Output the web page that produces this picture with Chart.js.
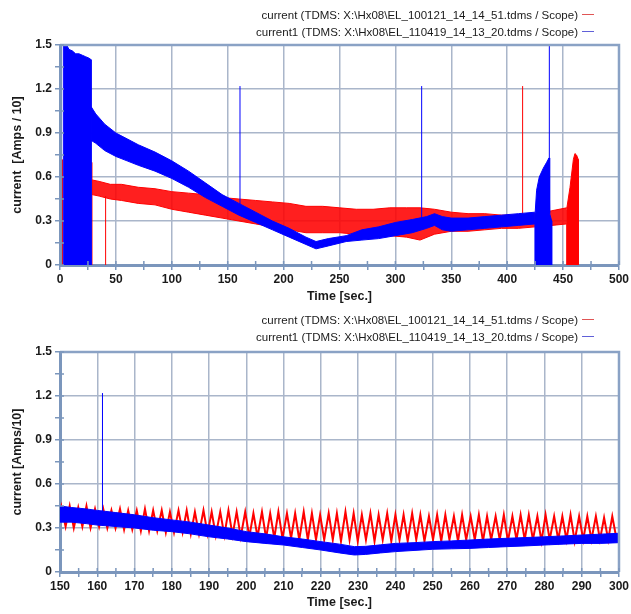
<!DOCTYPE html>
<html>
<head>
<meta charset="utf-8">
<script src="https://cdn.jsdelivr.net/npm/chart.js@4"></script>
<style>
  body { margin: 0; background: #fff; width: 631px; height: 614px; overflow: hidden; position: relative;
         font-family: "Liberation Sans", Arial, sans-serif; }
  canvas { position: absolute; left: 0; }
  .legend { position: absolute; right: 37px; font-size: 11.5px; line-height: 17px; color: #1a1a1a;
            text-align: right; white-space: nowrap; z-index: 2; }
  .legend .key { display: inline-block; width: 12px; height: 1px; vertical-align: 4px; margin-left: 4px; }
</style>
</head>
<body>
<div class="legend" style="top:7px">
  <div>current (TDMS: X:\Hx08\EL_100121_14_14_51.tdms / Scope)<span class="key" style="background:#e05555"></span></div>
  <div>current1 (TDMS: X:\Hx08\EL_110419_14_13_20.tdms / Scope)<span class="key" style="background:#6060d8"></span></div>
</div>
<div class="legend" style="top:312px">
  <div>current (TDMS: X:\Hx08\EL_100121_14_14_51.tdms / Scope)<span class="key" style="background:#e05555"></span></div>
  <div>current1 (TDMS: X:\Hx08\EL_110419_14_13_20.tdms / Scope)<span class="key" style="background:#6060d8"></span></div>
</div>
<canvas id="fullChart" width="631" height="308" style="top:0"></canvas>
<canvas id="zoomChart" width="631" height="306" style="top:308px"></canvas>
<script>
// Tick labels
const fullTimeTicks = [0, 50, 100, 150, 200, 250, 300, 350, 400, 450, 500];
const zoomTimeTicks = [150, 160, 170, 180, 190, 200, 210, 220, 230, 240, 250, 260, 270, 280, 290, 300];
const currentTicks = [0, 0.3, 0.6, 0.9, 1.2, 1.5];

// --- Full run (0-500 s) ---
// current1 (blue): start burst, noisy band (upper/lower edge), end burst, single spikes
const blueStartTime = [3.0, 3.0, 6, 8, 11, 14, 17, 20, 23, 26, 27.8, 27.8];
const blueStartCurrent = [0, 1.5, 1.5, 1.47, 1.46, 1.44, 1.44, 1.43, 1.42, 1.41, 1.40, 0];
const blueBandTime = [27.8, 32, 40, 50, 60, 70, 85, 100, 115, 130, 145, 160, 175, 190, 205, 220, 229, 240, 256, 270, 285, 300, 315, 328, 335, 342, 350, 365, 380, 395, 410, 424.8];
const blueBandUpper = [1.08, 1.03, 0.96, 0.90, 0.86, 0.82, 0.77, 0.71, 0.64, 0.56, 0.48, 0.42, 0.36, 0.30, 0.25, 0.19, 0.16, 0.18, 0.20, 0.24, 0.26, 0.29, 0.31, 0.33, 0.35, 0.33, 0.32, 0.32, 0.33, 0.34, 0.35, 0.36];
const blueBandLower = [0.85, 0.83, 0.78, 0.74, 0.71, 0.68, 0.64, 0.59, 0.53, 0.46, 0.40, 0.34, 0.29, 0.24, 0.19, 0.14, 0.11, 0.13, 0.16, 0.17, 0.18, 0.20, 0.22, 0.25, 0.27, 0.24, 0.23, 0.24, 0.25, 0.26, 0.27, 0.28];
const blueEndTime = [424.8, 424.8, 426.3, 428.7, 432.3, 435.3, 437.4, 438.0, 439.8, 439.8];
const blueEndCurrent = [0, 0.33, 0.51, 0.60, 0.66, 0.70, 0.73, 0.35, 0.30, 0];
const blueSpikeTime = [161, 323.5, 437.7];
const blueSpikeBase = [0.38, 0.31, 0.70];
const blueSpikeTop = [1.22, 1.22, 1.5];

// current (red): noisy band, end burst, spikes
const redBandTime = [28.6, 35, 45, 55, 70, 85, 100, 115, 130, 145, 160, 175, 190, 205, 220, 235, 250, 265, 280, 295, 310, 322, 335, 350, 365, 380, 395, 410, 425, 440, 453.2];
const redBandUpper = [0.58, 0.57, 0.55, 0.55, 0.53, 0.52, 0.50, 0.49, 0.48, 0.46, 0.45, 0.44, 0.43, 0.42, 0.40, 0.40, 0.39, 0.38, 0.38, 0.39, 0.39, 0.39, 0.38, 0.36, 0.35, 0.35, 0.34, 0.34, 0.35, 0.37, 0.39];
const redBandLower = [0.48, 0.47, 0.45, 0.44, 0.42, 0.41, 0.38, 0.36, 0.34, 0.32, 0.30, 0.28, 0.26, 0.24, 0.22, 0.22, 0.22, 0.21, 0.21, 0.20, 0.19, 0.17, 0.21, 0.23, 0.23, 0.24, 0.25, 0.25, 0.26, 0.27, 0.28];
const redEndTime = [453.2, 453.2, 456.2, 459.2, 460.6, 462.0, 463.6, 463.6];
const redEndCurrent = [0, 0.38, 0.53, 0.72, 0.76, 0.75, 0.72, 0];
const redSpikeTime = [2.2, 28.6, 40.8, 413.8];
const redSpikeBase = [0, 0, 0, 0.34];
const redSpikeTop = [0.72, 0.70, 0.47, 1.22];

// --- Zoom (150-300 s) ---
const zoomBlueTime = [150, 153, 157, 160, 165, 170, 175, 180, 185, 190, 195, 200, 205, 210, 215, 220, 225, 229, 232, 236, 240, 245, 250, 255, 260, 265, 270, 275, 280, 285, 290, 295, 300];
const zoomBlueUpper = [0.45, 0.44, 0.43, 0.42, 0.405, 0.39, 0.37, 0.355, 0.34, 0.32, 0.30, 0.275, 0.26, 0.24, 0.225, 0.207, 0.19, 0.173, 0.175, 0.185, 0.195, 0.20, 0.207, 0.212, 0.218, 0.225, 0.23, 0.235, 0.24, 0.246, 0.252, 0.258, 0.264];
const zoomBlueLower = [0.34, 0.34, 0.33, 0.32, 0.31, 0.30, 0.285, 0.275, 0.26, 0.24, 0.225, 0.207, 0.195, 0.184, 0.167, 0.15, 0.13, 0.116, 0.12, 0.13, 0.139, 0.147, 0.155, 0.158, 0.161, 0.167, 0.173, 0.178, 0.184, 0.19, 0.195, 0.195, 0.2];
const zoomBlueSpikeTime = [161.4];
const zoomBlueSpikeBase = [0.38];
const zoomBlueSpikeTop = [1.22];

// red oscillation: peaks and troughs read one by one
const zoomRedPeakTime = [150.4, 152.6, 154.9, 157.1, 159.4, 161.6, 163.8, 166.1, 168.3, 170.6, 172.8, 175.0, 177.3, 179.5, 181.8, 184.0, 186.2, 188.5, 190.7, 193.0, 195.2, 197.4, 199.7, 201.9, 204.2, 206.4, 208.6, 210.9, 213.1, 215.4, 217.6, 219.8, 222.1, 224.3, 226.6, 228.8, 231.0, 233.3, 235.5, 237.8, 240.0, 242.2, 244.5, 246.7, 249.0, 251.2, 253.4, 255.7, 257.9, 260.2, 262.4, 264.6, 266.9, 269.1, 271.4, 273.6, 275.8, 278.1, 280.3, 282.6, 284.8, 287.0, 289.3, 291.5, 293.8, 296.0, 298.2];
const zoomRedPeakCurrent = [0.44, 0.45, 0.44, 0.45, 0.43, 0.43, 0.42, 0.43, 0.42, 0.42, 0.43, 0.42, 0.42, 0.41, 0.42, 0.42, 0.41, 0.42, 0.41, 0.41, 0.42, 0.41, 0.41, 0.40, 0.41, 0.40, 0.41, 0.40, 0.40, 0.41, 0.40, 0.39, 0.40, 0.40, 0.41, 0.40, 0.39, 0.40, 0.39, 0.40, 0.39, 0.39, 0.40, 0.39, 0.38, 0.39, 0.39, 0.38, 0.39, 0.38, 0.39, 0.38, 0.38, 0.39, 0.38, 0.39, 0.39, 0.38, 0.39, 0.38, 0.38, 0.39, 0.38, 0.38, 0.38, 0.37, 0.38];
const zoomRedTroughTime = [150.0, 151.5, 153.7, 156.0, 158.2, 160.5, 162.7, 164.9, 167.2, 169.4, 171.7, 173.9, 176.1, 178.4, 180.6, 182.9, 185.1, 187.3, 189.6, 191.8, 194.1, 196.3, 198.5, 200.8, 203.0, 205.3, 207.5, 209.7, 212.0, 214.2, 216.5, 218.7, 220.9, 223.2, 225.4, 227.7, 229.9, 232.1, 234.4, 236.6, 238.9, 241.1, 243.3, 245.6, 247.8, 250.1, 252.3, 254.5, 256.8, 259.0, 261.3, 263.5, 265.7, 268.0, 270.2, 272.5, 274.7, 276.9, 279.2, 281.4, 283.7, 285.9, 288.1, 290.4, 292.6, 294.9, 297.1, 299.3];
const zoomRedTroughCurrent = [0.36, 0.31, 0.30, 0.31, 0.30, 0.31, 0.30, 0.30, 0.29, 0.29, 0.28, 0.28, 0.28, 0.27, 0.27, 0.27, 0.26, 0.26, 0.26, 0.25, 0.25, 0.25, 0.24, 0.24, 0.24, 0.23, 0.23, 0.23, 0.23, 0.22, 0.22, 0.22, 0.22, 0.22, 0.21, 0.22, 0.21, 0.22, 0.21, 0.22, 0.21, 0.22, 0.21, 0.22, 0.21, 0.22, 0.21, 0.22, 0.21, 0.22, 0.22, 0.21, 0.22, 0.22, 0.21, 0.22, 0.22, 0.22, 0.21, 0.22, 0.22, 0.22, 0.21, 0.22, 0.22, 0.22, 0.22, 0.23];

const RED = '#ff0000';
const BLUE = '#0000ff';
const gridColor = '#aab6ca';
const axisColor = '#7b96bc';
const FONT = '"Liberation Sans", Arial, sans-serif';

Chart.defaults.font.family = FONT;

function points(xs, ys) {
  return xs.map((x, i) => ({ x: x, y: ys[i] }));
}

// vertical single-sample spikes, separated by gaps
function spikes(xs, bases, tops) {
  const out = [];
  xs.forEach((x, i) => {
    out.push({ x: x, y: bases[i] }, { x: x, y: tops[i] }, { x: x, y: null });
  });
  return out;
}

function withMinors(majors) {
  const out = [];
  majors.forEach((v, i) => {
    out.push(v);
    if (i < majors.length - 1) out.push((v + majors[i + 1]) / 2);
  });
  return out;
}

function isMajor(majors, v) {
  return majors.some(m => Math.abs(m - v) < 1e-6);
}

// frame on top/right plus tick marks that cross into the plot
const scopeFrame = {
  id: 'scopeFrame',
  afterDatasetsDraw(chart) {
    const { ctx, chartArea: a, scales } = chart;
    ctx.save();
    ctx.strokeStyle = '#8aa2c5';
    ctx.lineWidth = 2.5;
    ctx.beginPath();
    ctx.moveTo(a.left, a.top);
    ctx.lineTo(a.right, a.top);
    ctx.lineTo(a.right, a.bottom);
    ctx.stroke();
    ctx.strokeStyle = axisColor;
    ctx.lineWidth = 1.5;
    ctx.beginPath();
    scales.x.ticks.forEach(t => {
      const px = scales.x.getPixelForValue(t.value);
      ctx.moveTo(px, a.bottom);
      ctx.lineTo(px, a.bottom - 4);
    });
    scales.y.ticks.forEach(t => {
      const py = scales.y.getPixelForValue(t.value);
      ctx.moveTo(a.left, py);
      ctx.lineTo(a.left + 4, py);
    });
    ctx.stroke();
    ctx.restore();
  }
};

function createScopeChart(id, datasets, timeTicks, yTitle, padTop, xHeight) {
  return new Chart(document.getElementById(id), {
    type: 'line',
    data: { datasets: datasets },
    plugins: [scopeFrame],
    options: {
      responsive: false,
      animation: false,
      events: [],
      devicePixelRatio: 1,
      layout: { padding: { left: 0, right: 12, top: padTop, bottom: 0 } },
      elements: { point: { radius: 0 }, line: { tension: 0 } },
      plugins: { legend: { display: false }, tooltip: { enabled: false } },
      scales: {
        x: {
          type: 'linear',
          min: timeTicks[0],
          max: timeTicks[timeTicks.length - 1],
          afterBuildTicks: s => { s.ticks = withMinors(timeTicks).map(v => ({ value: v })); },
          afterFit: s => { s.height = xHeight; },
          ticks: {
            autoSkip: false, maxRotation: 0, padding: 2, color: '#1a1a1a',
            font: { size: 12, weight: 'bold' },
            callback: v => isMajor(timeTicks, v) ? String(v) : ''
          },
          grid: {
            color: c => (c.tick && isMajor(timeTicks, c.tick.value)) ? gridColor : 'rgba(0,0,0,0)',
            lineWidth: 1.5, tickColor: axisColor, tickLength: 5
          },
          border: { color: axisColor, width: 3 },
          title: {
            display: true, text: 'Time [sec.]', color: '#1a1a1a',
            font: { size: 12.5, weight: 'bold' }, padding: { top: 4, bottom: 4 }
          }
        },
        y: {
          type: 'linear',
          min: 0,
          max: 1.5,
          afterBuildTicks: s => { s.ticks = withMinors(currentTicks).map(v => ({ value: v })); },
          afterFit: s => { s.width = 60; },
          ticks: {
            autoSkip: false, padding: 3, color: '#1a1a1a',
            font: { size: 12, weight: 'bold' },
            callback: v => isMajor(currentTicks, v) ? String(currentTicks.find(m => Math.abs(m - v) < 1e-6)) : ''
          },
          grid: {
            color: c => (c.tick && isMajor(currentTicks, c.tick.value)) ? gridColor : 'rgba(0,0,0,0)',
            lineWidth: 1.5, tickColor: axisColor, tickLength: 5
          },
          border: { color: axisColor, width: 3 },
          title: {
            display: true, text: yTitle, color: '#1a1a1a',
            font: { size: 12.5, weight: 'bold' }, padding: { top: 10, bottom: 0 }
          }
        }
      }
    }
  });
}

// blue (order 1) is drawn over red (order 2)
const fullDatasets = [
  { data: points(redBandTime, redBandLower), borderColor: RED, borderWidth: 1, fill: false, order: 2 },
  { data: points(redBandTime, redBandUpper), borderColor: RED, borderWidth: 1, backgroundColor: 'rgba(255,0,0,0.88)', fill: '-1', order: 2 },
  { data: points(redEndTime, redEndCurrent), borderColor: RED, borderWidth: 1, backgroundColor: RED, fill: 'origin', order: 2 },
  { data: spikes(redSpikeTime, redSpikeBase, redSpikeTop), borderColor: RED, borderWidth: 1, fill: false, order: 2 },
  { data: points(blueBandTime, blueBandLower), borderColor: BLUE, borderWidth: 1, fill: false, order: 1 },
  { data: points(blueBandTime, blueBandUpper), borderColor: BLUE, borderWidth: 1, backgroundColor: BLUE, fill: '-1', order: 1 },
  { data: points(blueStartTime, blueStartCurrent), borderColor: BLUE, borderWidth: 1, backgroundColor: BLUE, fill: 'origin', order: 1 },
  { data: points(blueEndTime, blueEndCurrent), borderColor: BLUE, borderWidth: 1, backgroundColor: BLUE, fill: 'origin', order: 1 },
  { data: spikes(blueSpikeTime, blueSpikeBase, blueSpikeTop), borderColor: BLUE, borderWidth: 1, fill: false, order: 1 }
];

const zoomRed = points(zoomRedPeakTime, zoomRedPeakCurrent)
  .concat(points(zoomRedTroughTime, zoomRedTroughCurrent))
  .sort((a, b) => a.x - b.x);

const zoomDatasets = [
  { data: zoomRed, borderColor: RED, borderWidth: 2, fill: false, order: 2 },
  { data: points(zoomBlueTime, zoomBlueLower), borderColor: BLUE, borderWidth: 1, fill: false, order: 1 },
  { data: points(zoomBlueTime, zoomBlueUpper), borderColor: BLUE, borderWidth: 1, backgroundColor: BLUE, fill: '-1', order: 1 },
  { data: spikes(zoomBlueSpikeTime, zoomBlueSpikeBase, zoomBlueSpikeTop), borderColor: BLUE, borderWidth: 1, fill: false, order: 1 }
];

createScopeChart('fullChart', fullDatasets, fullTimeTicks, 'current  [Amps / 10]', 45, 43);
createScopeChart('zoomChart', zoomDatasets, zoomTimeTicks, 'current [Amps/10]', 44, 42);
</script>
</body>
</html>
